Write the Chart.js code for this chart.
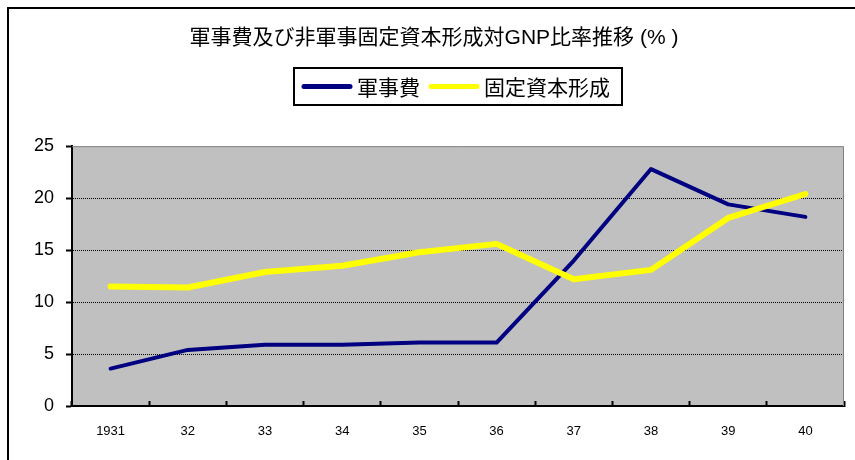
<!DOCTYPE html>
<html lang="ja">
<head>
<meta charset="utf-8">
<title>軍事費及び非軍事固定資本形成対GNP比率推移</title>
<script src="https://cdn.jsdelivr.net/npm/chart.js@4"></script>
<style>
  body { margin: 0; background: #fff; }
  canvas { display: block; }
</style>
</head>
<body>
<canvas id="chart" width="855" height="460"></canvas>
<script>
// データ
const years = ['1931', '32', '33', '34', '35', '36', '37', '38', '39', '40'];
const military = [3.6, 5.4, 5.9, 5.9, 6.1, 6.1, 14.0, 22.8, 19.4, 18.2];
const capital = [11.5, 11.4, 12.9, 13.5, 14.8, 15.6, 12.2, 13.1, 18.1, 20.4];
const yTicks = [0, 5, 10, 15, 20, 25];

const latin = "'Liberation Sans', Arial, 'Noto Sans CJK JP', sans-serif";
const cjk = "'Noto Sans CJK JP', 'Liberation Sans', sans-serif";

// 外枠・プロット背景・凡例の枠
const excelLook = {
  id: 'excelLook',
  beforeDraw(chart) {
    const { ctx, chartArea: a } = chart;
    ctx.save();
    ctx.fillStyle = '#fff';
    ctx.fillRect(0, 0, chart.width, chart.height);
    ctx.strokeStyle = '#000';
    ctx.lineWidth = 2;
    ctx.strokeRect(8, 8, chart.width + 50, chart.height + 50);
    ctx.fillStyle = '#c0c0c0';
    ctx.fillRect(a.left, a.top, a.right - a.left, a.bottom - a.top);
    ctx.restore();
  },
  beforeDatasetsDraw(chart) {
    const { ctx, chartArea: a } = chart;
    ctx.save();
    ctx.strokeStyle = '#808080';
    ctx.lineWidth = 1;
    ctx.beginPath();
    ctx.moveTo(a.left, a.top + 0.5);
    ctx.lineTo(a.right - 0.5, a.top + 0.5);
    ctx.lineTo(a.right - 0.5, a.bottom);
    ctx.stroke();
    ctx.restore();
  },
  afterDraw(chart) {
    const { ctx, chartArea: a } = chart;
    const sets = chart.data.datasets;
    ctx.save();
    ctx.font = '21px ' + cjk;
    ctx.textBaseline = 'middle';
    const lineW = 50, gap = 5, itemGap = 9, padL = 8, padR = 12;
    const widths = sets.map(d => ctx.measureText(d.label).width);
    let total = padL + padR;
    widths.forEach((w, i) => { total += lineW + gap + w + (i ? itemGap : 0); });
    const cx = (a.left + a.right) / 2;
    const left = Math.round(cx - total / 2);
    const top = 68, h = 37, cy = top + h / 2;
    ctx.strokeStyle = '#000';
    ctx.lineWidth = 2;
    ctx.strokeRect(left, top, total, h);
    let x = left + padL;
    sets.forEach((d, i) => {
      ctx.strokeStyle = d.borderColor;
      ctx.lineWidth = 5;
      ctx.lineCap = 'round';
      ctx.beginPath();
      ctx.moveTo(x + 2, cy);
      ctx.lineTo(x + lineW - 2, cy);
      ctx.stroke();
      x += lineW + gap;
      ctx.fillStyle = '#000';
      ctx.fillText(d.label, x, cy + 1);
      x += widths[i] + itemGap;
    });
    ctx.restore();
  }
};

new Chart(document.getElementById('chart'), {
  type: 'line',
  data: {
    labels: years,
    datasets: [{
      label: '軍事費',
      data: military,
      borderColor: '#000080',
      borderWidth: 4,
      order: 1
    }, {
      label: '固定資本形成',
      data: capital,
      borderColor: '#ffff00',
      borderWidth: 6,
      order: 0
    }]
  },
  options: {
    responsive: false,
    animation: false,
    devicePixelRatio: 1,
    elements: {
      point: { radius: 0 },
      line: { tension: 0, borderCapStyle: 'round', borderJoinStyle: 'round' }
    },
    layout: { padding: { left: 24, right: 11, top: 0, bottom: 0 } },
    plugins: {
      legend: { display: false },
      tooltip: { enabled: false },
      title: {
        display: true,
        text: '軍事費及び非軍事固定資本形成対GNP比率推移 (% )',
        color: '#000',
        font: { family: latin, size: 21, weight: 'normal' },
        padding: { top: 26, bottom: 95 }
      }
    },
    scales: {
      x: {
        offset: true,
        border: { color: '#000', width: 2 },
        grid: {
          offset: true,
          drawOnChartArea: false,
          tickLength: -5,
          tickColor: '#000',
          tickWidth: 2
        },
        ticks: {
          color: '#000',
          font: { family: latin, size: 13 },
          padding: 23,
          maxRotation: 0,
          autoSkip: false
        },
        afterFit(scale) { scale.height = 54; }
      },
      y: {
        min: 0,
        max: 25,
        // v4: border.dash は目盛線の破線にも効く
        border: { color: '#000', width: 2, dash: [1, 1] },
        grid: {
          color: c => (c.tick && (c.tick.value === 0 || c.tick.value === 25)) ? 'rgba(0,0,0,0)' : '#000',
          lineWidth: 1,
          tickColor: '#000',
          tickLength: 6,
          tickWidth: 2,
          tickBorderDash: []
        },
        afterBuildTicks(scale) { scale.ticks = yTicks.map(v => ({ value: v })); },
        ticks: {
          color: '#000',
          font: { family: latin, size: 18 },
          padding: 12
        },
        afterFit(scale) { scale.width = 48; }
      }
    }
  },
  plugins: [excelLook]
});
</script>
</body>
</html>
